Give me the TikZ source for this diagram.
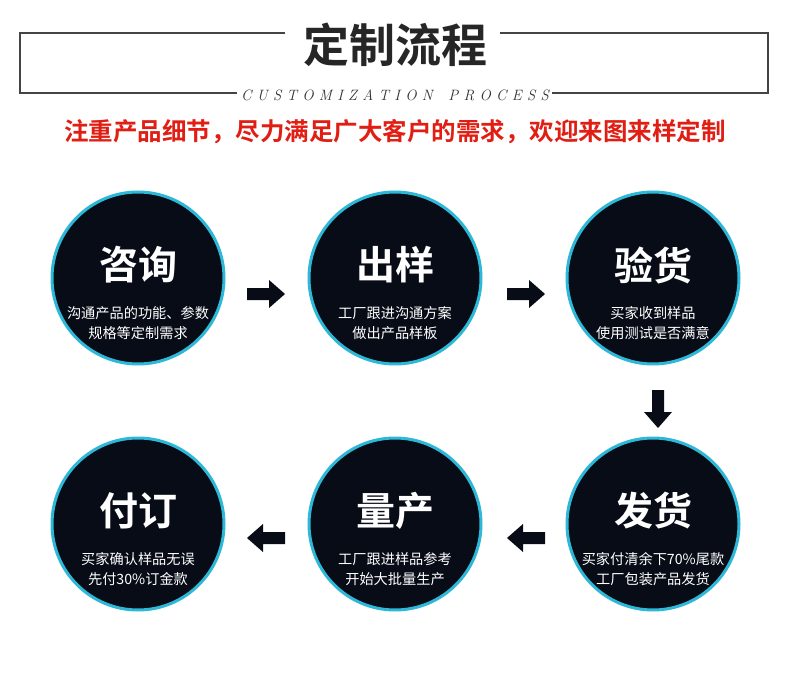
\documentclass[tikz,border=0pt]{standalone}
\usepackage{fontspec}
\newfontfamily\cjk{Noto Sans CJK SC}[BoldFont={Noto Sans CJK SC Bold}]
\begin{document}
\begin{tikzpicture}[x=1pt,y=-1pt,
  circ/.style={circle,fill=cfill,draw=cborder,line width=3pt,minimum size=172pt,inner sep=0pt},
  ctitle/.style={font=\cjk\bfseries\fontsize{39}{39}\selectfont,text=white},
  cdesc/.style={font=\cjk\fontsize{14.2}{20}\selectfont,text=white,align=center},
  flow/.style={fill=cfill,draw=none}]
\definecolor{cfill}{HTML}{070C17}
\definecolor{cborder}{HTML}{2EB8D8}
\definecolor{fr}{HTML}{444444}
\useasboundingbox (0,0) rectangle (790,674);
\fill[white] (0,0) rectangle (790,674);
\draw[fr,line width=2pt] (285,33) -- (20,33) -- (20,93) -- (237,93);
\draw[fr,line width=2pt] (500,33) -- (768,33) -- (768,93) -- (552,93);
\node[font=\cjk\bfseries\fontsize{46}{46}\selectfont,text=black!85] (title) at (395,45) {定制流程};
\node[font=\itshape\fontsize{15}{15}\selectfont,text=black!80] (sub) at (395,95) {C\ U\ S\ T\ O\ M\ I\ Z\ A\ T\ I\ O\ N\ \ \ P\ R\ O\ C\ E\ S\ S};
\node[font=\cjk\bfseries\fontsize{24.5}{24.5}\selectfont,text={rgb,255:red,225;green,30;blue,20}] (red) at (395,132) {注重产品细节，尽力满足广大客户的需求，欢迎来图来样定制};
\foreach \n/\x/\y/\t/\a/\b in {
  c1/138/278/咨询/沟通产品的功能、参数/规格等定制需求,
  c2/395/278/出样/工厂跟进沟通方案/做出产品样板,
  c3/653/278/验货/买家收到样品/使用测试是否满意,
  c4/138/524/付订/买家确认样品无误/先付30\%订金款,
  c5/395/524/量产/工厂跟进样品参考/开始大批量生产,
  c6/653/524/发货/买家付清余下70\%尾款/工厂包装产品发货}{
  \node[circ] (\n) at (\x,\y) {};
  \node[ctitle] (\n t) at (\x,\y-13) {\t};
  \node[cdesc] (\n d) at (\x,\y+45) {\a\\\b};
}
\foreach \x in {247,507}{
  \fill[flow] (\x,288) -- (\x+22,288) -- (\x+22,280) -- (\x+38,294) -- (\x+22,308) -- (\x+22,300) -- (\x,300) -- cycle;
}
\foreach \x in {285,545}{
  \fill[flow] (\x,532) -- (\x-22,532) -- (\x-22,524) -- (\x-38,538) -- (\x-22,552) -- (\x-22,544) -- (\x,544) -- cycle;
}
\fill[flow] (652,390) -- (652,412) -- (644,412) -- (658,428) -- (672,412) -- (664,412) -- (664,390) -- cycle;
\end{tikzpicture}
\end{document}
